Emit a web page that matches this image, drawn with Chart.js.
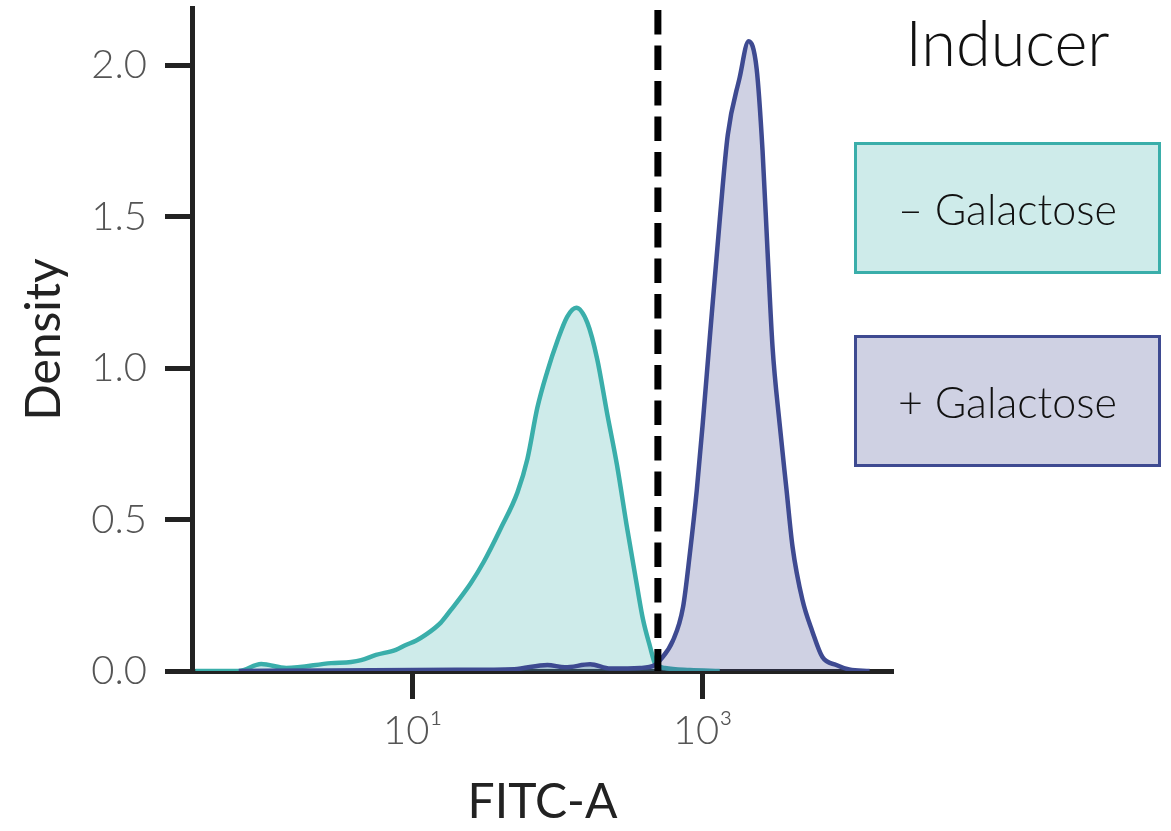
<!DOCTYPE html>
<html>
<head>
<meta charset="utf-8">
<script src="https://cdn.jsdelivr.net/npm/chart.js@4"></script>
<style>
  body { margin: 0; background: #fff; }
  #wrap { position: relative; width: 1171px; height: 831px; }
  #legend { position: absolute; left: 854px; top: 0; width: 307px; font-family: Lato, sans-serif; }
  #legend .title { position: absolute; left: 0; width: 307px; top: 4px; text-align: center;
    font-size: 63px; font-weight: 300; color: #111; }
  #legend .key { position: absolute; left: 0; width: 307px; height: 132px; box-sizing: border-box;
    border: 3px solid; display: flex; align-items: center; justify-content: center;
    font-size: 43px; font-weight: 300; color: #111; }
</style>
</head>
<body>
<div id="wrap">
  <canvas id="chart"></canvas>
  <div id="legend"><div class="title">Inducer</div></div>
</div>
<script>
// FITC-A values (log axis) and density estimates
const noGalFitc = [0.316, 0.63, 0.90, 1.34, 2.73, 3.75, 4.40, 5.57, 7.64, 8.95, 10.5, 12.3, 15.6, 18.2,
  25.1, 30.8, 40.3, 52.7, 61.7, 72.3, 84.7, 99.3, 116, 134, 160, 187, 219, 256, 301, 352, 387, 433,
  468, 548, 815, 1309];
const noGalDensity = [0, 0, 0.023, 0.01, 0.026, 0.03, 0.036, 0.053, 0.07, 0.086, 0.10, 0.12, 0.16, 0.20,
  0.29, 0.36, 0.47, 0.59, 0.70, 0.87, 0.99, 1.09, 1.17, 1.20, 1.15, 1.03, 0.85, 0.68, 0.47, 0.28, 0.17, 0.08,
  0.026, 0.01, 0.003, 0];

const galFitc = [0.63, 2.73, 20, 50, 84.7, 112, 167, 230, 369, 468, 506, 622, 730, 815, 910, 1000, 1117,
  1309, 1486, 1795, 2070, 2350, 2582, 2800, 3027, 3381, 3776, 4159, 4864, 5702, 6683, 8337, 10230, 14125];
const galDensity = [0, 0.002, 0.004, 0.006, 0.02, 0.012, 0.022, 0.008, 0.01, 0.02, 0.035, 0.10, 0.21, 0.39,
  0.60, 0.82, 1.10, 1.49, 1.77, 1.96, 2.08, 1.99, 1.72, 1.38, 1.07, 0.82, 0.60, 0.41, 0.235, 0.13, 0.046,
  0.02, 0.005, 0];

const gateFitc = 490;
const gateRange = [2.183, 0];

const seriesLabels = ["\u2013 Galactose", "+ Galactose"];
const seriesLine = ["#3aaeaa", "#3e4a91"];
const seriesFill = ["rgba(58,174,170,0.25)", "rgba(62,73,145,0.25)"];

const xTicks = [10, 1000];
const yTicks = [0, 0.5, 1.0, 1.5, 2.0];
const supers = { 1: "\u00b9", 2: "\u00b2", 3: "\u00b3" };

function toPoints(xs, ys) {
  return xs.map((x, i) => ({ x: x, y: ys[i] }));
}

const tickFont = { family: "Lato", size: 40, weight: 300 };
const titleFont = { family: "Lato", size: 48, weight: 400, lineHeight: 1.2 };

new Chart(document.getElementById("chart"), {
  type: "line",
  data: {
    datasets: [
      {
        data: gateRange.map(y => ({ x: gateFitc, y: y })),
        borderColor: "#000",
        borderWidth: 7,
        borderDash: [24.5, 11],
        pointRadius: 0,
        fill: false
      },
      {
        label: seriesLabels[1],
        data: toPoints(galFitc, galDensity),
        borderColor: seriesLine[1],
        backgroundColor: seriesFill[1],
        borderWidth: 4.5,
        pointRadius: 0,
        cubicInterpolationMode: "monotone",
        fill: "origin"
      },
      {
        label: seriesLabels[0],
        data: toPoints(noGalFitc, noGalDensity),
        borderColor: seriesLine[0],
        backgroundColor: seriesFill[0],
        borderWidth: 4.5,
        pointRadius: 0,
        cubicInterpolationMode: "monotone",
        fill: "origin"
      }
    ]
  },
  options: {
    responsive: true,
    maintainAspectRatio: false,
    animation: false,
    layout: { padding: { top: 8, right: 278, left: 0, bottom: 0 } },
    plugins: { legend: { display: false }, tooltip: { enabled: false } },
    scales: {
      x: {
        type: "logarithmic",
        min: 0.31,
        max: 20500,
        afterFit: s => { s.height = 160; s.paddingLeft = 0; s.paddingRight = 0; },
        afterBuildTicks: s => { s.ticks = xTicks.map(v => ({ value: v })); },
        border: { display: true, color: "#222", width: 5 },
        grid: { display: true, drawOnChartArea: false, drawTicks: true, tickLength: 28, tickWidth: 5, tickColor: "#222" },
        ticks: {
          padding: 8,
          color: "#555",
          font: tickFont,
          maxRotation: 0,
          callback: v => "10" + supers[Math.round(Math.log10(v))]
        },
        title: { display: true, text: "FITC-A", color: "#222", font: titleFont, padding: { top: 0, bottom: 0 } }
      },
      y: {
        min: 0,
        max: 2.19,
        afterFit: s => { s.width = 192; s.paddingTop = 0; s.paddingBottom = 0; },
        afterBuildTicks: s => { s.ticks = yTicks.map(v => ({ value: v })); },
        border: { display: true, color: "#222", width: 5 },
        grid: { display: true, drawOnChartArea: false, drawTicks: true, tickLength: 27, tickWidth: 5, tickColor: "#222" },
        ticks: {
          padding: 18,
          color: "#555",
          font: tickFont,
          callback: v => v.toFixed(1)
        },
        title: { display: true, text: "Density", color: "#222", font: titleFont, padding: { top: 16, bottom: 0 } }
      }
    }
  }
});

// legend keys
const legend = document.getElementById("legend");
const keyTops = [142, 335];
seriesLabels.forEach((label, i) => {
  const key = document.createElement("div");
  key.className = "key";
  key.style.top = keyTops[i] + "px";
  key.style.borderColor = seriesLine[i];
  key.style.background = seriesFill[i];
  key.textContent = label;
  legend.appendChild(key);
});
</script>
</body>
</html>
